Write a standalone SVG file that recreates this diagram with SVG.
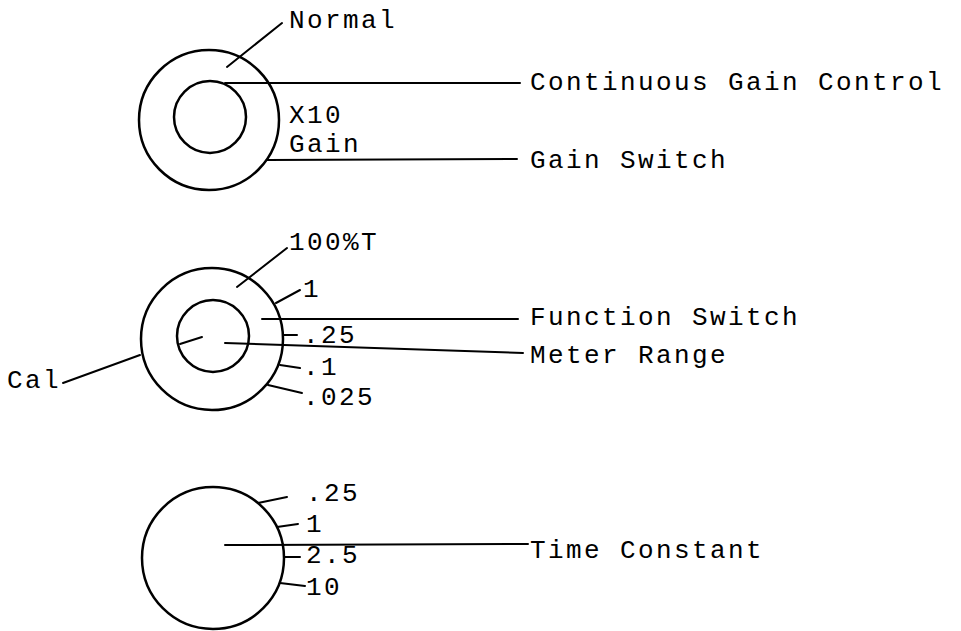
<svg xmlns="http://www.w3.org/2000/svg" width="961" height="631" viewBox="0 0 961 631">
<style>
  .dial { fill: none; stroke: #000; stroke-width: 2.5; }
  .ln { fill: none; stroke: #000; stroke-width: 2; stroke-linecap: round; }
  text { font-family: "Liberation Mono", "Courier New", monospace; font-size: 26px; letter-spacing: 2.4px; fill: #000; }
</style>
<rect width="961" height="631" fill="#fff"/>
<g id="gain-dial">
  <circle class="dial" cx="209" cy="120" r="70"/>
  <circle class="dial" cx="210" cy="117" r="36"/>
  <text x="289" y="28">Normal</text>
  <text x="289" y="123">X10</text>
  <text x="289" y="152">Gain</text>
</g>
<g id="function-dial">
  <circle class="dial" cx="212" cy="339" r="71"/>
  <circle class="dial" cx="213" cy="336" r="36"/>
  <text x="289" y="250">100%T</text>
  <text x="303" y="297">1</text>
  <text x="303" y="343">.25</text>
  <text x="303" y="375">.1</text>
  <text x="303" y="405">.025</text>
  <text x="7" y="388">Cal</text>
</g>
<g id="time-dial">
  <circle class="dial" cx="213" cy="558" r="71"/>
  <text x="306" y="501">.25</text>
  <text x="306" y="532">1</text>
  <text x="306" y="563">2.5</text>
  <text x="306" y="595">10</text>
</g>
<g id="labels">
  <text x="530" y="90">Continuous Gain Control</text>
  <text x="530" y="168">Gain Switch</text>
  <text x="530" y="325">Function Switch</text>
  <text x="530" y="363">Meter Range</text>
  <text x="530" y="558">Time Constant</text>
</g>
<g id="connectors">
  <line class="ln" x1="227" y1="67" x2="282" y2="23"/>
  <line class="ln" x1="225" y1="83" x2="520" y2="83"/>
  <line class="ln" x1="267" y1="160" x2="517" y2="159"/>
  <line class="ln" x1="237" y1="287" x2="287" y2="248"/>
  <line class="ln" x1="276" y1="303" x2="300" y2="290"/>
  <line class="ln" x1="262" y1="319" x2="518" y2="319"/>
  <line class="ln" x1="283" y1="335" x2="297" y2="335"/>
  <line class="ln" x1="225" y1="343" x2="523" y2="353"/>
  <line class="ln" x1="280" y1="365" x2="300" y2="368"/>
  <line class="ln" x1="268" y1="385" x2="302" y2="393"/>
  <line class="ln" x1="63" y1="383" x2="140" y2="355"/>
  <line class="ln" x1="180" y1="344" x2="202" y2="337"/>
  <line class="ln" x1="258" y1="503" x2="287" y2="497"/>
  <line class="ln" x1="277" y1="527" x2="298" y2="524"/>
  <line class="ln" x1="225" y1="545" x2="528" y2="544"/>
  <line class="ln" x1="285" y1="557" x2="300" y2="557"/>
  <line class="ln" x1="280" y1="583" x2="305" y2="586"/>
</g>
</svg>
